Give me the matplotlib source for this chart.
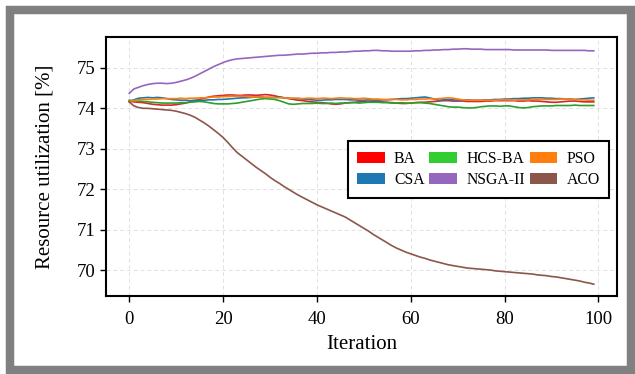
import matplotlib
matplotlib.use("Agg")
import matplotlib.pyplot as plt
from matplotlib.patches import Patch, Rectangle

plt.rcParams['font.family'] = ['Liberation Serif', 'DejaVu Serif']

iterations = list(range(100))

ba = [74.17, 74.16, 74.15, 74.14, 74.12, 74.10, 74.09, 74.08, 74.08, 74.08,
      74.09, 74.11, 74.13, 74.16, 74.19, 74.22, 74.25, 74.28, 74.30, 74.31,
      74.32, 74.33, 74.33, 74.32, 74.32, 74.33, 74.33, 74.32, 74.33, 74.34,
      74.33, 74.31, 74.28, 74.26, 74.24, 74.22, 74.20, 74.19, 74.17, 74.16,
      74.15, 74.14, 74.13, 74.11, 74.10, 74.11, 74.13, 74.14, 74.15, 74.16,
      74.16, 74.17, 74.17, 74.17, 74.16, 74.15, 74.14, 74.13, 74.12, 74.12,
      74.13, 74.14, 74.15, 74.15, 74.16, 74.17, 74.18, 74.19, 74.19, 74.18,
      74.18, 74.18, 74.17, 74.17, 74.17, 74.17, 74.18, 74.18, 74.19, 74.19,
      74.19, 74.19, 74.19, 74.18, 74.18, 74.19, 74.18, 74.18, 74.17, 74.16,
      74.15, 74.15, 74.16, 74.17, 74.18, 74.18, 74.17, 74.16, 74.16, 74.16]

csa = [74.17, 74.21, 74.25, 74.26, 74.27, 74.26, 74.27, 74.26, 74.24, 74.22,
       74.21, 74.20, 74.20, 74.19, 74.20, 74.19, 74.20, 74.21, 74.21, 74.22,
       74.22, 74.23, 74.24, 74.25, 74.26, 74.26, 74.27, 74.28, 74.28, 74.27,
       74.27, 74.27, 74.28, 74.26, 74.25, 74.24, 74.24, 74.23, 74.22, 74.21,
       74.20, 74.20, 74.21, 74.21, 74.22, 74.22, 74.22, 74.21, 74.21, 74.20,
       74.20, 74.21, 74.20, 74.20, 74.21, 74.21, 74.22, 74.23, 74.24, 74.24,
       74.25, 74.26, 74.27, 74.28, 74.26, 74.23, 74.20, 74.21, 74.22, 74.21,
       74.20, 74.20, 74.21, 74.20, 74.20, 74.20, 74.21, 74.21, 74.22, 74.22,
       74.23, 74.23, 74.24, 74.24, 74.25, 74.25, 74.26, 74.26, 74.26, 74.25,
       74.25, 74.24, 74.24, 74.23, 74.23, 74.22, 74.23, 74.24, 74.25, 74.26]

hcs_ba = [74.20, 74.19, 74.18, 74.17, 74.16, 74.15, 74.14, 74.13, 74.13, 74.13,
          74.13, 74.14, 74.14, 74.15, 74.16, 74.17, 74.16, 74.14, 74.12, 74.11,
          74.11, 74.11, 74.12, 74.13, 74.15, 74.17, 74.19, 74.21, 74.23, 74.24,
          74.23, 74.22, 74.19, 74.15, 74.11, 74.10, 74.11, 74.12, 74.12, 74.12,
          74.13, 74.12, 74.12, 74.13, 74.12, 74.13, 74.13, 74.14, 74.14, 74.13,
          74.14, 74.15, 74.15, 74.15, 74.14, 74.14, 74.13, 74.13, 74.14, 74.13,
          74.13, 74.14, 74.14, 74.13, 74.12, 74.10, 74.08, 74.06, 74.04, 74.03,
          74.03, 74.02, 74.01, 74.01, 74.02, 74.04, 74.05, 74.06, 74.06, 74.05,
          74.06, 74.06, 74.04, 74.02, 74.01, 74.02, 74.04, 74.05, 74.06, 74.06,
          74.06, 74.07, 74.07, 74.07, 74.07, 74.08, 74.07, 74.07, 74.07, 74.07]

nsga2 = [74.37, 74.48, 74.52, 74.56, 74.59, 74.61, 74.62, 74.62, 74.61, 74.62,
         74.64, 74.67, 74.70, 74.74, 74.79, 74.85, 74.91, 74.97, 75.03, 75.08,
         75.13, 75.17, 75.20, 75.22, 75.23, 75.24, 75.25, 75.26, 75.27, 75.28,
         75.29, 75.30, 75.31, 75.31, 75.32, 75.33, 75.34, 75.34, 75.35, 75.36,
         75.36, 75.37, 75.37, 75.38, 75.38, 75.39, 75.39, 75.40, 75.41, 75.41,
         75.42, 75.42, 75.43, 75.43, 75.42, 75.42, 75.41, 75.41, 75.41, 75.41,
         75.41, 75.42, 75.42, 75.43, 75.43, 75.44, 75.44, 75.45, 75.45, 75.46,
         75.46, 75.47, 75.47, 75.46, 75.46, 75.46, 75.45, 75.45, 75.45, 75.45,
         75.45, 75.45, 75.44, 75.44, 75.44, 75.44, 75.44, 75.44, 75.44, 75.44,
         75.43, 75.43, 75.43, 75.43, 75.43, 75.43, 75.43, 75.43, 75.42, 75.42]

pso = [74.17, 74.19, 74.21, 74.22, 74.22, 74.23, 74.23, 74.24, 74.24, 74.24,
       74.24, 74.25, 74.24, 74.25, 74.25, 74.26, 74.26, 74.27, 74.28, 74.28,
       74.29, 74.29, 74.30, 74.30, 74.30, 74.29, 74.28, 74.28, 74.28, 74.27,
       74.27, 74.26, 74.26, 74.26, 74.25, 74.25, 74.25, 74.24, 74.25, 74.25,
       74.24, 74.25, 74.25, 74.24, 74.25, 74.26, 74.25, 74.25, 74.24, 74.24,
       74.25, 74.24, 74.23, 74.23, 74.22, 74.22, 74.22, 74.22, 74.21, 74.21,
       74.22, 74.22, 74.23, 74.23, 74.24, 74.23, 74.24, 74.25, 74.26, 74.25,
       74.23, 74.21, 74.20, 74.20, 74.20, 74.20, 74.20, 74.20, 74.20, 74.21,
       74.21, 74.21, 74.20, 74.21, 74.21, 74.21, 74.22, 74.22, 74.22, 74.22,
       74.22, 74.22, 74.23, 74.23, 74.22, 74.22, 74.21, 74.21, 74.20, 74.20]

aco = [74.16, 74.06, 74.02, 74.00, 74.00, 73.99, 73.98, 73.97, 73.96, 73.95,
       73.93, 73.90, 73.87, 73.83, 73.78, 73.71, 73.64, 73.56, 73.47, 73.38,
       73.28, 73.16, 73.03, 72.91, 72.82, 72.73, 72.64, 72.55, 72.47, 72.39,
       72.30, 72.22, 72.15, 72.07, 72.00, 71.93, 71.86, 71.80, 71.74, 71.68,
       71.62, 71.57, 71.52, 71.47, 71.42, 71.37, 71.32, 71.25, 71.18, 71.11,
       71.04, 70.97, 70.89, 70.82, 70.75, 70.68, 70.61, 70.55, 70.50, 70.45,
       70.41, 70.37, 70.33, 70.30, 70.26, 70.23, 70.20, 70.17, 70.14, 70.12,
       70.10, 70.08, 70.06, 70.05, 70.04, 70.03, 70.02, 70.01, 69.99, 69.98,
       69.97, 69.96, 69.95, 69.94, 69.93, 69.92, 69.91, 69.89, 69.88, 69.87,
       69.85, 69.84, 69.82, 69.80, 69.78, 69.76, 69.74, 69.71, 69.69, 69.66]

labels = ["BA", "CSA", "HCS-BA", "NSGA-II", "PSO", "ACO"]
series = [ba, csa, hcs_ba, nsga2, pso, aco]
line_colors = ["#d62728", "#1f77b4", "#2ca02c", "#9467bd", "#ff7f0e", "#8c564b"]
legend_colors = ["#ff0000", "#1f77b4", "#32cd32", "#9467bd", "#ff7f0e", "#8c564b"]

fig = plt.figure(figsize=(6.35, 3.74), dpi=100)
fig.patch.set_facecolor("white")
fig.patches.append(Rectangle((10/635, 4/374), 620.5/635, 360/374,
                             transform=fig.transFigure, fill=False,
                             edgecolor="#808080", linewidth=6.1, zorder=0))

ax = fig.add_axes([106/635, 78/374, 511/635, 259/374])
for vals, col in zip(series, line_colors):
    ax.plot(iterations, vals, color=col, linewidth=1.2)

ax.set_xticks([0, 20, 40, 60, 80, 100])
ax.set_yticks([70, 71, 72, 73, 74, 75])
ax.grid(True, linestyle=(0, (4, 3)), color="#e0e0e0", linewidth=0.7)
ax.set_axisbelow(True)
ax.tick_params(axis="both", labelsize=13.5, length=4.5, width=1, color="black")
ax.tick_params(axis="x", pad=6)
ax.tick_params(axis="y", pad=3)
for s in ax.spines.values():
    s.set_linewidth(1.5)
    s.set_color("black")
ax.set_xlabel("Iteration", fontsize=15, labelpad=5)
ax.set_ylabel("Resource utilization [%]", fontsize=15, labelpad=16)

handles = [Patch(facecolor=c, edgecolor="none") for c in legend_colors]
leg = ax.legend(handles, labels, ncol=3, loc="center right",
                bbox_to_anchor=(1.0, 0.488), fontsize=11.3, fancybox=False,
                edgecolor="black", framealpha=1, handlelength=1.75,
                handletextpad=0.6, columnspacing=0.3, labelspacing=0.35,
                borderpad=0.6)
leg.get_frame().set_linewidth(1.5)

fig.savefig("out.png", dpi=100, facecolor="white")
